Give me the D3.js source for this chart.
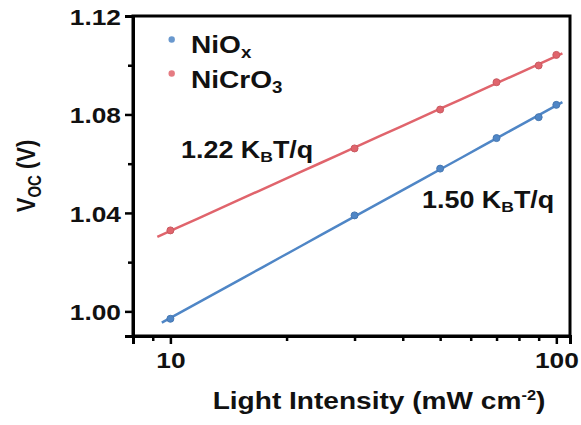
<!DOCTYPE html>
<html>
<head>
<meta charset="utf-8">
<script src="https://cdn.jsdelivr.net/npm/d3@7"></script>
<style>
  body { margin: 0; background: #fff; }
  svg { display: block; }
  text { font-family: "Liberation Sans", Arial, sans-serif; font-weight: bold; fill: #111; }
</style>
</head>
<body>
<div id="chart"></div>
<script>
// light intensity (mW cm-2) and Voc (V)
const intensity = [10, 30, 50, 70, 90, 100];
const vocNiOx = [0.997, 1.039, 1.058, 1.0704, 1.0789, 1.0839];
const vocNiCrO3 = [1.0329, 1.0662, 1.0820, 1.0931, 1.0999, 1.1042];
const seriesNames = ["NiOx", "NiCrO3"];
const slopeLabels = ["1.50", "1.22"];
const fitRangeNiOx = [9.5, 103.7];
const fitRangeNiCrO3 = [9.25, 103.7];
const xMajorTicks = [10, 100];
const xMinorTicks = [9, 20, 30, 40, 50, 60, 70, 80, 90];
const yMajorTicks = [1.00, 1.04, 1.08, 1.12];
const yMinorTicks = [1.02, 1.06, 1.10];

const width = 581, height = 425;
const plotL = 133, plotR = 570, plotT = 16, plotB = 336;
const SX = 1.17; // the picture is a bit wider than tall, text included

const blue = "#4f86c6", red = "#e0646c";

const svg = d3.select("#chart").append("svg")
  .attr("width", width)
  .attr("height", height);

const x = d3.scaleLog().domain([8, 108.5]).range([plotL, plotR]);
const y = d3.scaleLinear().domain([0.99, 1.12]).range([plotB, plotT]);

// least squares on log10(I)
function fit(xs, ys) {
  const lx = xs.map(v => Math.log10(v));
  const mx = d3.mean(lx), my = d3.mean(ys);
  let num = 0, den = 0;
  lx.forEach((v, i) => { num += (v - mx) * (ys[i] - my); den += (v - mx) * (v - mx); });
  const b = num / den;
  return v => my + b * (Math.log10(v) - mx);
}

// frame (top + right)
svg.append("rect")
  .attr("x", plotL).attr("y", plotT)
  .attr("width", plotR - plotL).attr("height", plotB - plotT)
  .attr("fill", "none").attr("stroke", "#000").attr("stroke-width", 3);

function styleAxis(g) {
  g.select(".domain").attr("stroke-width", 3).attr("stroke", "#000");
  g.selectAll(".tick line").attr("stroke-width", 2.5).attr("stroke", "#000");
}

// y axis
const yMinor = svg.append("g")
  .attr("transform", `translate(${plotL},0)`)
  .call(d3.axisLeft(y).tickValues(yMinorTicks).tickSize(5).tickFormat(""));
styleAxis(yMinor);

const yAxis = svg.append("g")
  .attr("transform", `translate(${plotL},0)`)
  .call(d3.axisLeft(y).tickValues(yMajorTicks).tickSize(8).tickFormat(d3.format(".2f")));
styleAxis(yAxis);
yAxis.selectAll(".tick text")
  .attr("x", null).attr("dy", null)
  .attr("transform", `translate(-12,8.5) scale(${SX},1)`)
  .attr("font-size", 22.5).attr("font-family", null).attr("fill", "#111");

// x axis
const xMinor = svg.append("g")
  .attr("transform", `translate(0,${plotB})`)
  .call(d3.axisBottom(x).tickValues(xMinorTicks).tickSize(5).tickFormat(""));
styleAxis(xMinor);

const xAxis = svg.append("g")
  .attr("transform", `translate(0,${plotB})`)
  .call(d3.axisBottom(x).tickValues(xMajorTicks).tickSize(8).tickFormat(d3.format("d")));
styleAxis(xAxis);
xAxis.selectAll(".tick text")
  .attr("y", null).attr("dy", null)
  .attr("transform", `translate(0,31.5) scale(${SX},1)`)
  .attr("font-size", 22.5).attr("font-family", null).attr("fill", "#111");

// axis titles
const xt = svg.append("text")
  .attr("transform", `translate(379,409) scale(${SX},1)`)
  .attr("text-anchor", "middle")
  .attr("font-size", 24);
xt.append("tspan").text("Light Intensity (mW cm");
xt.append("tspan").attr("font-size", 14).attr("dy", -9).text("-2");
xt.append("tspan").attr("dy", 9).text(")");

const yt = svg.append("text")
  .attr("transform", `translate(35,176) rotate(-90) scale(1,${SX})`)
  .attr("text-anchor", "middle")
  .attr("font-size", 22);
yt.append("tspan").text("V");
yt.append("tspan").attr("font-size", 15).attr("dy", 5).text("OC");
yt.append("tspan").attr("dy", -5).text(" (V)");

// fit lines
const line = d3.line().x(d => x(d[0])).y(d => y(d[1]));
const series = [
  { vals: vocNiOx, color: blue, range: fitRangeNiOx },
  { vals: vocNiCrO3, color: red, range: fitRangeNiCrO3 }
];

series.forEach(s => {
  const f = fit(intensity, s.vals);
  const pts = d3.range(0, 21).map(i => {
    const lv = Math.log10(s.range[0]) + i / 20 * (Math.log10(s.range[1]) - Math.log10(s.range[0]));
    const v = Math.pow(10, lv);
    return [v, f(v)];
  });
  svg.append("path")
    .datum(pts)
    .attr("d", line)
    .attr("fill", "none")
    .attr("stroke", s.color)
    .attr("stroke-width", 2.5);

  svg.selectAll(null)
    .data(intensity.map((v, i) => [v, s.vals[i]]))
    .enter()
    .append("circle")
    .attr("cx", d => x(d[0]))
    .attr("cy", d => y(d[1]))
    .attr("r", 3.5)
    .attr("fill", s.color)
    .attr("stroke", d3.color(s.color).darker(0.3))
    .attr("stroke-width", 1);
});

// legend
const legend = [
  { name: seriesNames[0], color: blue, dotY: 39.5, base: 53, sub: "x", main: "NiO" },
  { name: seriesNames[1], color: red, dotY: 73.5, base: 88, sub: "3", main: "NiCrO" }
];
legend.forEach(l => {
  svg.append("circle")
    .attr("cx", 171.7).attr("cy", l.dotY).attr("r", 3.2)
    .attr("fill", l.color).attr("opacity", 0.85);
  const t = svg.append("text")
    .attr("transform", `translate(191,${l.base}) scale(${SX},1)`)
    .attr("font-size", 24);
  t.append("tspan").text(l.main);
  t.append("tspan").attr("font-size", 16).attr("dy", 5).text(l.sub);
});

// slope annotations
function slopeText(xp, yp, val) {
  const t = svg.append("text")
    .attr("transform", `translate(${xp},${yp}) scale(${SX},1)`)
    .attr("font-size", 23);
  t.append("tspan").text(val + " K");
  t.append("tspan").attr("font-size", 15).attr("dy", 4).text("B");
  t.append("tspan").attr("dy", -4).text("T/q");
}
slopeText(181, 158, slopeLabels[1]);
slopeText(422, 208, slopeLabels[0]);
</script>
</body>
</html>
